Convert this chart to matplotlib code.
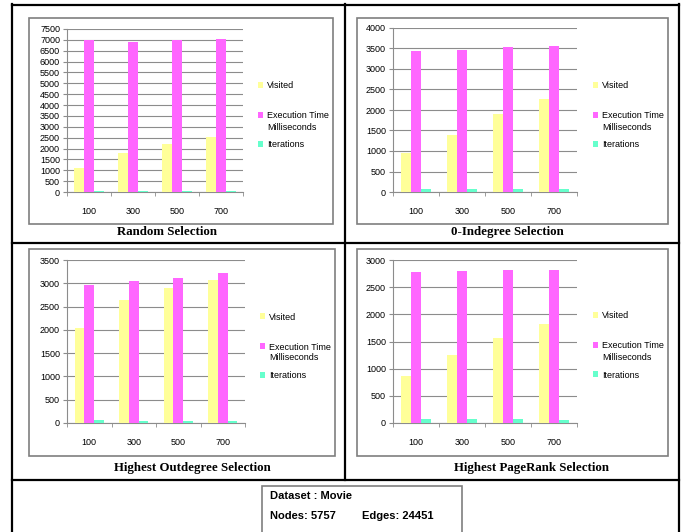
import matplotlib
matplotlib.use("Agg")
from matplotlib import pyplot as plt
from matplotlib.patches import Rectangle
from matplotlib.lines import Line2D
from matplotlib.legend import Legend
import numpy as np

W, H = 686, 532

categories = ["100", "300", "500", "700"]
series_names = ["Visited", "Execution Time\nMilliseconds", "Iterations"]
series_colors = ["#FFFF99", "#FF66FF", "#66FFCC"]

random_visited = [1100, 1790, 2200, 2510]
random_exec = [6990, 6920, 7000, 7040]
random_iter = [60, 60, 60, 60]

indeg_visited = [940, 1380, 1895, 2280]
indeg_exec = [3440, 3460, 3545, 3560]
indeg_iter = [82, 82, 65, 65]

outdeg_visited = [2035, 2635, 2900, 3065]
outdeg_exec = [2955, 3055, 3120, 3215]
outdeg_iter = [57, 50, 43, 36]

pagerank_visited = [860, 1258, 1570, 1815]
pagerank_exec = [2780, 2790, 2810, 2822]
pagerank_iter = [74, 74, 74, 61]

titles = ["Random Selection", "0-Indegree Selection",
          "Highest Outdegree Selection", "Highest PageRank Selection"]
y_max = [7500, 4000, 3500, 3000]
y_step = [500, 500, 500, 500]


def fx(x):
    return x / W


def fy(y):
    return 1 - y / H


def box(fig, x0, y0, x1, y1, color, lw):
    fig.patches.append(Rectangle((fx(x0), fy(y1)), fx(x1) - fx(x0), fy(y0) - fy(y1),
                                 transform=fig.transFigure, fill=False,
                                 edgecolor=color, linewidth=lw))


def hline(fig, x0, x1, y, lw=1.6):
    fig.lines.append(Line2D([fx(x0), fx(x1)], [fy(y), fy(y)], transform=fig.transFigure,
                            color="black", linewidth=lw))


def vline(fig, x, y0, y1, lw=1.6):
    fig.lines.append(Line2D([fx(x), fx(x)], [fy(y0), fy(y1)], transform=fig.transFigure,
                            color="black", linewidth=lw))


def bar_chart(fig, rect, data, ymax, step):
    # rect in pixels: left, top, right, bottom of the plot area
    l, t, r, b = rect
    ax = fig.add_axes([fx(l), fy(b), fx(r) - fx(l), fy(t) - fy(b)])
    x = np.arange(len(categories))
    w = 0.22
    bars = []
    for i, vals in enumerate(data):
        bars.append(ax.bar(x + (i - 1) * w, vals, width=w, color=series_colors[i],
                           edgecolor="none", zorder=3))
    ax.set_xlim(-0.5, len(categories) - 0.5)
    ax.set_ylim(0, ymax)
    ax.set_yticks(np.arange(0, ymax + 1, step))
    ax.yaxis.grid(True, color="#8c8c8c", linewidth=0.8, zorder=0)
    ax.set_xticks(x)
    ax.set_xticklabels(categories)
    ax.set_xticks(np.arange(-0.5, len(categories)), minor=True)
    ax.tick_params(axis="x", which="major", length=0, pad=11, labelsize=6.5)
    ax.tick_params(axis="x", which="minor", length=3, color="#8c8c8c", direction="out")
    ax.tick_params(axis="y", length=3, color="#8c8c8c", pad=2, labelsize=6.5)
    for s in ["top", "right"]:
        ax.spines[s].set_visible(False)
    for s in ["left", "bottom"]:
        ax.spines[s].set_color("#8c8c8c")
        ax.spines[s].set_linewidth(0.8)
    ax.set_facecolor("none")
    return ax, bars


def add_legend(ax, bars, x, y):
    # one legend per entry so each can sit at its own height;
    # the marker sits beside the first line of a two-line label
    offsets = [0, 30, 59]
    for bar, name, dy in zip(bars, series_names, offsets):
        first, *rest = name.split("\n")
        leg = Legend(ax, [bar], [first], loc="center left",
                     bbox_to_anchor=(fx(x), fy(y + dy)), bbox_transform=fig.transFigure,
                     frameon=False, fontsize=6.5, handlelength=0.6, handleheight=0.6,
                     handletextpad=0.4, borderpad=0, borderaxespad=0)
        ax.add_artist(leg)
        for k, line in enumerate(rest):
            fig.text(fx(x + 9), fy(y + dy + 11 * (k + 1)), line, ha="left",
                     va="center", fontsize=6.5)


plt.rcParams["font.family"] = ["Liberation Sans", "DejaVu Sans"]
fig = plt.figure(figsize=(W / 100, H / 100), dpi=100)

# outer frame and dividers
vline(fig, 12, 4, 532)
vline(fig, 679, 4, 532)
vline(fig, 345, 4, 480)
hline(fig, 12, 679, 5)
hline(fig, 12, 679, 243)
hline(fig, 12, 679, 480)

panels = [
    dict(box=(29, 18, 333, 224), plot=(67, 29, 243, 192), legend=(258, 86),
         title=(167, 232), data=[random_visited, random_exec, random_iter]),
    dict(box=(357, 18, 668, 224), plot=(393, 28, 577, 192), legend=(593, 86),
         title=(507, 232), data=[indeg_visited, indeg_exec, indeg_iter]),
    dict(box=(29, 249, 335, 456), plot=(67, 260, 245, 423), legend=(260, 317),
         title=(192, 468), data=[outdeg_visited, outdeg_exec, outdeg_iter]),
    dict(box=(357, 249, 668, 456), plot=(393, 260, 577, 423), legend=(593, 316),
         title=(531, 468), data=[pagerank_visited, pagerank_exec, pagerank_iter]),
]

for i, p in enumerate(panels):
    box(fig, *p["box"], color="#7f7f7f", lw=1.2)
    ax, bars = bar_chart(fig, p["plot"], p["data"], y_max[i], y_step[i])
    add_legend(ax, bars, *p["legend"])
    tx, ty = p["title"]
    fig.text(fx(tx), fy(ty), titles[i], ha="center", va="center", fontsize=9.3,
             fontweight="bold", family=["Liberation Serif", "DejaVu Serif"])

# dataset info box
box(fig, 262, 486, 462, 540, color="#7f7f7f", lw=1.2)
fig.text(fx(270), fy(496), "Dataset : Movie", ha="left", va="center",
         fontsize=8, fontweight="bold")
fig.text(fx(270), fy(516), "Nodes: 5757", ha="left", va="center",
         fontsize=8, fontweight="bold")
fig.text(fx(362), fy(516), "Edges: 24451", ha="left", va="center",
         fontsize=8, fontweight="bold")

fig.savefig("out.png", dpi=100)
